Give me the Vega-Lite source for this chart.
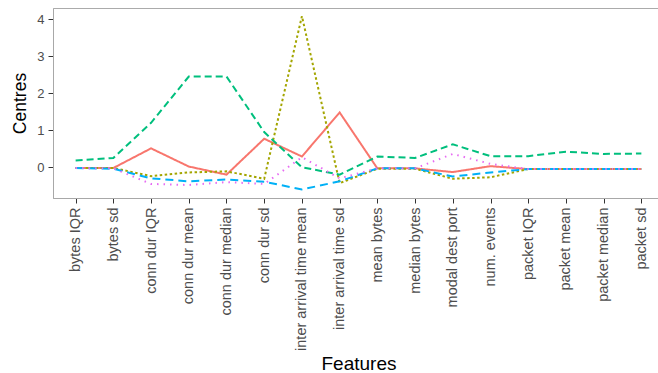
{
  "$schema": "https://vega.github.io/schema/vega-lite/v6.json",
  "autosize": {"type": "none"},
  "padding": {"left": 53, "top": 8, "right": 0, "bottom": 175},
  "width": 611,
  "height": 190,
  "background": "white",
  "config": {
    "view": {"stroke": "#ababab", "strokeWidth": 1},
    "font": "Liberation Sans",
    "axis": {"grid": false, "domainColor": "#a8a8a8", "tickColor": "#333333", "tickSize": 5, "labelColor": "#4d4d4d", "titleColor": "#000000", "titleFontWeight": "normal", "labelFont": "Liberation Sans", "titleFont": "Liberation Sans"}
  },
  "data": {"values": [
    {"f": "bytes IQR", "c": "1", "v": -0.02},
    {"f": "bytes sd", "c": "1", "v": -0.02},
    {"f": "conn dur IQR", "c": "1", "v": 0.51},
    {"f": "conn dur mean", "c": "1", "v": 0.02},
    {"f": "conn dur median", "c": "1", "v": -0.2},
    {"f": "conn dur sd", "c": "1", "v": 0.77},
    {"f": "inter arrival time mean", "c": "1", "v": 0.29},
    {"f": "inter arrival time sd", "c": "1", "v": 1.48},
    {"f": "mean bytes", "c": "1", "v": -0.03},
    {"f": "median bytes", "c": "1", "v": -0.03},
    {"f": "modal dest port", "c": "1", "v": -0.13},
    {"f": "num. events", "c": "1", "v": 0.03},
    {"f": "packet IQR", "c": "1", "v": -0.05},
    {"f": "packet mean", "c": "1", "v": -0.05},
    {"f": "packet median", "c": "1", "v": -0.05},
    {"f": "packet sd", "c": "1", "v": -0.05},

    {"f": "bytes IQR", "c": "2", "v": -0.02},
    {"f": "bytes sd", "c": "2", "v": -0.02},
    {"f": "conn dur IQR", "c": "2", "v": -0.24},
    {"f": "conn dur mean", "c": "2", "v": -0.14},
    {"f": "conn dur median", "c": "2", "v": -0.11},
    {"f": "conn dur sd", "c": "2", "v": -0.31},
    {"f": "inter arrival time mean", "c": "2", "v": 4.08},
    {"f": "inter arrival time sd", "c": "2", "v": -0.43},
    {"f": "mean bytes", "c": "2", "v": -0.04},
    {"f": "median bytes", "c": "2", "v": -0.04},
    {"f": "modal dest port", "c": "2", "v": -0.31},
    {"f": "num. events", "c": "2", "v": -0.27},
    {"f": "packet IQR", "c": "2", "v": -0.05},
    {"f": "packet mean", "c": "2", "v": -0.05},
    {"f": "packet median", "c": "2", "v": -0.05},
    {"f": "packet sd", "c": "2", "v": -0.05},

    {"f": "bytes IQR", "c": "3", "v": 0.18},
    {"f": "bytes sd", "c": "3", "v": 0.25},
    {"f": "conn dur IQR", "c": "3", "v": 1.2},
    {"f": "conn dur mean", "c": "3", "v": 2.45},
    {"f": "conn dur median", "c": "3", "v": 2.45},
    {"f": "conn dur sd", "c": "3", "v": 0.95},
    {"f": "inter arrival time mean", "c": "3", "v": 0.0},
    {"f": "inter arrival time sd", "c": "3", "v": -0.2},
    {"f": "mean bytes", "c": "3", "v": 0.29},
    {"f": "median bytes", "c": "3", "v": 0.25},
    {"f": "modal dest port", "c": "3", "v": 0.62},
    {"f": "num. events", "c": "3", "v": 0.3},
    {"f": "packet IQR", "c": "3", "v": 0.3},
    {"f": "packet mean", "c": "3", "v": 0.42},
    {"f": "packet median", "c": "3", "v": 0.36},
    {"f": "packet sd", "c": "3", "v": 0.37},

    {"f": "bytes IQR", "c": "4", "v": -0.02},
    {"f": "bytes sd", "c": "4", "v": -0.04},
    {"f": "conn dur IQR", "c": "4", "v": -0.3},
    {"f": "conn dur mean", "c": "4", "v": -0.38},
    {"f": "conn dur median", "c": "4", "v": -0.33},
    {"f": "conn dur sd", "c": "4", "v": -0.39},
    {"f": "inter arrival time mean", "c": "4", "v": -0.6},
    {"f": "inter arrival time sd", "c": "4", "v": -0.38},
    {"f": "mean bytes", "c": "4", "v": -0.03},
    {"f": "median bytes", "c": "4", "v": -0.03},
    {"f": "modal dest port", "c": "4", "v": -0.25},
    {"f": "num. events", "c": "4", "v": -0.14},
    {"f": "packet IQR", "c": "4", "v": -0.05},
    {"f": "packet mean", "c": "4", "v": -0.05},
    {"f": "packet median", "c": "4", "v": -0.05},
    {"f": "packet sd", "c": "4", "v": -0.05},

    {"f": "bytes IQR", "c": "5", "v": -0.02},
    {"f": "bytes sd", "c": "5", "v": -0.03},
    {"f": "conn dur IQR", "c": "5", "v": -0.45},
    {"f": "conn dur mean", "c": "5", "v": -0.48},
    {"f": "conn dur median", "c": "5", "v": -0.4},
    {"f": "conn dur sd", "c": "5", "v": -0.45},
    {"f": "inter arrival time mean", "c": "5", "v": 0.27},
    {"f": "inter arrival time sd", "c": "5", "v": -0.3},
    {"f": "mean bytes", "c": "5", "v": -0.03},
    {"f": "median bytes", "c": "5", "v": -0.03},
    {"f": "modal dest port", "c": "5", "v": 0.36},
    {"f": "num. events", "c": "5", "v": 0.09},
    {"f": "packet IQR", "c": "5", "v": -0.05},
    {"f": "packet mean", "c": "5", "v": -0.05},
    {"f": "packet median", "c": "5", "v": -0.05},
    {"f": "packet sd", "c": "5", "v": -0.05}
  ]},
  "mark": {"type": "line", "strokeWidth": 2},
  "encoding": {
    "x": {
      "field": "f", "type": "nominal", "sort": null,
      "scale": {"type": "point", "padding": 0.6},
      "axis": {"title": "Features", "labelAngle": -90, "labelFontSize": 14.5, "labelPadding": 4, "titleFontSize": 19, "titleY": 171, "titleBaseline": "alphabetic"}
    },
    "y": {
      "field": "v", "type": "quantitative",
      "scale": {"domain": [-0.83, 4.3], "nice": false, "zero": false},
      "axis": {"title": "Centres", "values": [0, 1, 2, 3, 4], "labelFontSize": 13, "labelPadding": 4, "titleFontSize": 17.5, "titleX": -28, "titleY": 95, "titleBaseline": "alphabetic"}
    },
    "color": {
      "field": "c", "type": "nominal", "legend": null,
      "scale": {"domain": ["1", "2", "3", "4", "5"], "range": ["#F8766D", "#A3A500", "#00BF7D", "#00B0F6", "#E76BF3"]}
    },
    "strokeDash": {
      "field": "c", "type": "nominal", "legend": null,
      "scale": {"domain": ["1", "2", "3", "4", "5"], "range": [[1, 0], [2.5, 2.5], [7, 4], [8, 5], [1.5, 5]]}
    }
  }
}
